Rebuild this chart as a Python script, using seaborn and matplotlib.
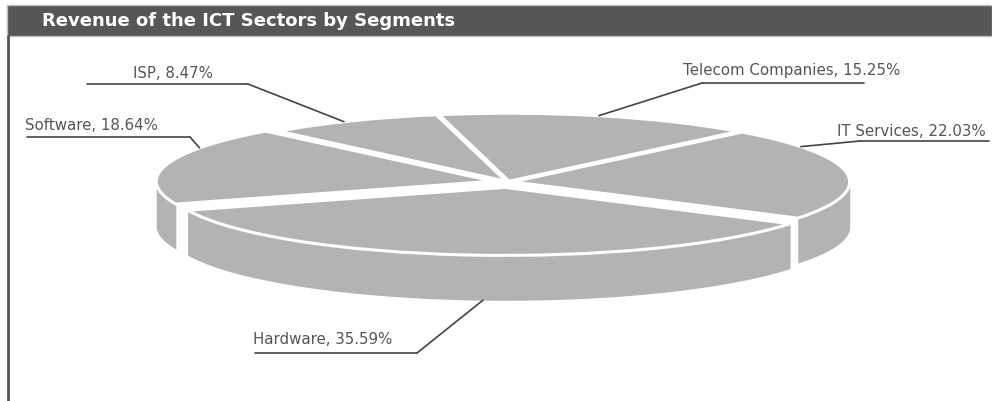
import numpy as np
import matplotlib
matplotlib.use('Agg')
import matplotlib.pyplot as plt
import seaborn as sns
from matplotlib.patches import Rectangle
from matplotlib.lines import Line2D

# %% Data

# segments, in drawing order (clockwise from the back)
lst_segments = ['Telecom Companies', 'IT Services', 'Hardware', 'Software', 'ISP']
# share of revenue in percent
lst_shares = [15.25, 22.03, 35.59, 18.64, 8.47]

# %% Style

sns.set_theme(style='white')
plt.rcParams['font.family'] = ['DejaVu Sans']

str_grey = '#b3b3b3'
str_text = '#555555'
str_line = '#444444'
lst_explode = [0.012, 0.014, 0.08, 0.045, 0.012]
var_depth = 0.66   # height of side wall, in units of vertical radius
var_start = 102

# figure size in pixels, pie centre and radii in pixels
var_w, var_h = 992, 401
var_cx, var_cy = 508, 182
var_rx, var_ry = 337, 68

# label layout (pixels from top left): text pos, underline (far x, elbow x, y),
# fraction along the wedge where the leader line ends
dict_layout = {
    'Telecom Companies': dict(text=(683, 70), line=(864, 702, 83), frac=0.5),
    'IT Services': dict(text=(837, 131), line=(989, 860, 141), frac=0.8),
    'Hardware': dict(text=(253, 340), line=(255, 417, 353), frac=0.52),
    'Software': dict(text=(25, 125), line=(27, 190, 137), frac=0.27),
    'ISP': dict(text=(133, 73), line=(87, 248, 84), frac=0.55),
}


def fig_xy(x, y):
    """Pixels from top left to figure fraction."""
    return x / var_w, 1 - y / var_h


# %% Plot

fig = plt.figure(figsize=(var_w / 100, var_h / 100), dpi=100)
ax = fig.add_axes([0, 0, 1, 1])

# top face
lst_wedges, _ = ax.pie(lst_shares, radius=1, center=(0, 0),
                       startangle=var_start, counterclock=False,
                       explode=lst_explode, colors=[str_grey] * 5,
                       wedgeprops=dict(linewidth=2.2, edgecolor='white'))

# side walls: front part of each wedge rim, pushed down by the depth
for wdg in lst_wedges:
    ary_t = np.deg2rad(np.linspace(wdg.theta1, wdg.theta2, 300))
    ary_front = np.sin(ary_t) <= 0
    if not ary_front.any():
        continue
    ary_x = wdg.center[0] + np.cos(ary_t[ary_front])
    ary_y = wdg.center[1] + np.sin(ary_t[ary_front])
    ax.fill_between(ary_x, ary_y - var_depth, ary_y, color=str_grey,
                    linewidth=0, zorder=0)

ax.set_aspect('auto')
ax.set_xlim(-var_cx / var_rx, (var_w - var_cx) / var_rx)
ax.set_ylim(-(var_h - var_cy) / var_ry, var_cy / var_ry)
ax.axis('off')

# labels with leader lines
for ind, str_seg in enumerate(lst_segments):
    wdg = lst_wedges[ind]
    lay = dict_layout[str_seg]
    theta = np.deg2rad(wdg.theta1 + lay['frac'] * (wdg.theta2 - wdg.theta1))
    ax_x = wdg.center[0] + np.cos(theta)
    ax_y = wdg.center[1] + np.sin(theta)
    if ax_y < wdg.center[1] - 0.5:
        ax_y -= var_depth
    x_far, x_elb, y_ln = lay['line']
    fig.add_artist(Line2D([x_far / var_w, x_elb / var_w],
                          [1 - y_ln / var_h] * 2, color=str_line, lw=1.2,
                          transform=fig.transFigure))
    ax.annotate('', xy=(ax_x, ax_y), xycoords='data',
                xytext=fig_xy(x_elb, y_ln), textcoords='figure fraction',
                arrowprops=dict(arrowstyle='-', color=str_line, lw=1.2,
                                shrinkA=0, shrinkB=0))
    fig.text(*fig_xy(*lay['text']),
             '{}, {:.2f}%'.format(str_seg, lst_shares[ind]),
             ha='left', va='center', fontsize=10.8, color=str_text)

# title bar and left border
fig.add_artist(Rectangle(fig_xy(7, 36), 985 / var_w, 31 / var_h,
                         transform=fig.transFigure, facecolor='#575757',
                         edgecolor='#bdbdbd', lw=1))
fig.text(*fig_xy(42, 21), 'Revenue of the ICT Sectors by Segments',
         ha='left', va='center', fontsize=13, fontweight='bold',
         color='white')
fig.add_artist(Line2D([8 / var_w] * 2, [1 - 36 / var_h, 0], color='#555555',
                      lw=2, transform=fig.transFigure))

fig.savefig('out.png', dpi=100)
